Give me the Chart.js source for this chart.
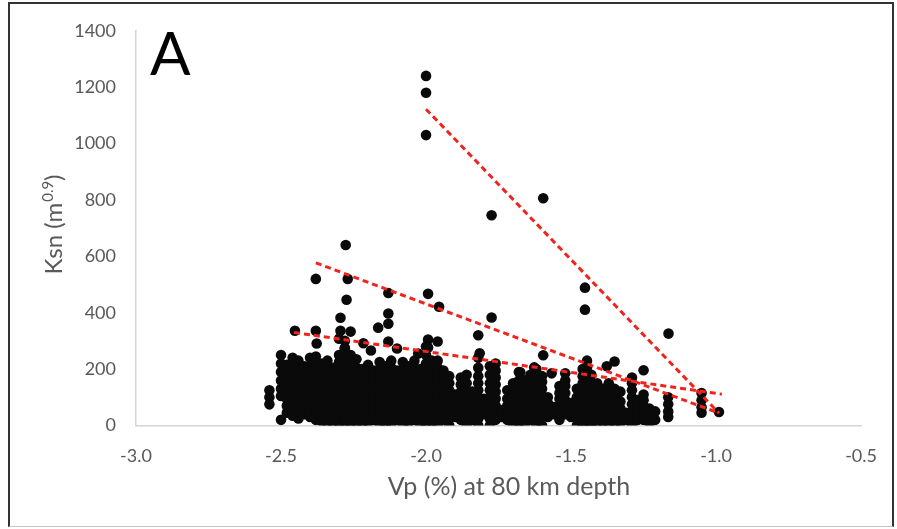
<!DOCTYPE html>
<html>
<head>
<meta charset="utf-8">
<script src="https://cdn.jsdelivr.net/npm/chart.js@4.4.1/dist/chart.umd.min.js"></script>
<style>
    html, body { margin: 0; padding: 0; background: #fff; }
    .wrap { position: relative; width: 897px; height: 529px; }
    .frame {
        position: absolute; left: 8px; top: 2px; width: 886px; height: 525px;
        border: 2px solid #333; border-bottom: 1px solid #c8c8c8;
        box-sizing: border-box; pointer-events: none;
    }
</style>
</head>
<body>
<div class="wrap">
    <canvas id="ksn-chart"></canvas>
    <div class="frame"></div>
</div>
<script>
const ksnCanvas = document.getElementById('ksn-chart')

const vpTicks = [-3.0, -2.5, -2.0, -1.5, -1.0, -0.5]
const ksnTicks = [0, 200, 400, 600, 800, 1000, 1200, 1400]

// dense cloud, read column by column (Vp value, then the Ksn values stacked in it)
const cloudVp = [
    -2.54, -2.50, -2.48, -2.46, -2.44, -2.42, -2.40, -2.38, -2.36, -2.34,
    -2.32, -2.30, -2.28, -2.26, -2.24, -2.22, -2.20, -2.18, -2.16, -2.14,
    -2.12, -2.10, -2.08, -2.06, -2.04, -2.02, -2.00, -1.98, -1.96, -1.94,
    -1.92, -1.90, -1.88, -1.86, -1.84, -1.82, -1.80, -1.78, -1.76, -1.74,
    -1.72, -1.70, -1.68, -1.66, -1.64, -1.62, -1.60, -1.58, -1.56, -1.54,
    -1.52, -1.50, -1.48, -1.46, -1.445, -1.43, -1.41, -1.39, -1.37, -1.35,
    -1.33, -1.31, -1.29, -1.27, -1.25, -1.23, -1.21, -1.165, -1.05, -0.99
]
const cloudKsn = [
    [75, 100, 125],
    [20, 105, 130, 160, 190, 220, 250],
    [45, 70, 95, 120, 145, 170, 195, 215],
    [35, 60, 90, 115, 140, 165, 190, 215, 240],
    [25, 50, 75, 100, 130, 155, 180, 205, 230],
    [40, 65, 90, 115, 140, 170, 195, 210],
    [30, 55, 85, 110, 135, 160, 185, 210, 240],
    [20, 45, 70, 100, 125, 150, 175, 200, 225, 245],
    [15, 40, 65, 90, 120, 145, 170, 195, 220],
    [10, 35, 60, 85, 110, 135, 160, 185, 210, 230],
    [5, 30, 55, 80, 105, 130, 155, 180, 205],
    [0, 25, 50, 75, 100, 125, 150, 175, 200, 225, 250],
    [0, 20, 45, 70, 95, 120, 145, 170, 195, 220, 245, 275, 300],
    [0, 25, 50, 75, 100, 125, 150, 175, 200, 225, 250],
    [0, 30, 55, 80, 105, 130, 155, 180, 205, 235],
    [5, 30, 55, 80, 105, 130, 155, 180, 200],
    [10, 35, 60, 85, 110, 140, 165, 190, 215],
    [20, 45, 70, 95, 120, 145, 170, 195],
    [0, 25, 50, 75, 100, 125, 150, 175, 200, 225],
    [0, 30, 55, 80, 105, 130, 160, 185, 210],
    [5, 30, 55, 80, 105, 130, 155, 180, 205, 230],
    [20, 45, 70, 95, 120, 145, 170, 195],
    [0, 25, 50, 75, 100, 125, 150, 175, 200, 225],
    [10, 35, 60, 85, 110, 135, 160, 185, 210],
    [20, 45, 70, 95, 120, 150, 175, 200, 230],
    [0, 25, 50, 75, 100, 125, 150, 175, 200],
    [0, 20, 45, 70, 95, 120, 145, 170, 195, 220, 250, 280],
    [10, 35, 60, 85, 110, 135, 160, 185, 210, 230],
    [0, 25, 50, 75, 100, 125, 150, 180, 205, 230],
    [20, 45, 70, 95, 120, 145, 170, 195],
    [0, 25, 50, 75, 100, 125, 150, 175],
    [30, 55, 80, 110],
    [20, 45, 70, 95, 120, 145, 170],
    [0, 25, 50, 75, 100, 125, 150, 180],
    [20, 45, 70, 95, 120],
    [0, 25, 50, 75, 100, 125, 150, 175, 205, 240],
    [40, 65, 95],
    [0, 25, 50, 75, 100, 125, 150, 180, 210],
    [20, 45, 70, 95, 120, 145, 170, 195, 220],
    [30, 55],
    [20, 45, 70, 95, 125],
    [0, 25, 50, 75, 100, 125, 150],
    [10, 35, 60, 85, 110, 135, 160, 190],
    [0, 25, 50, 75, 100, 130, 160],
    [20, 45, 70, 95, 120, 150, 180],
    [0, 25, 50, 75, 100, 125, 150, 175, 200],
    [0, 30, 55, 80, 105, 130, 155, 175],
    [30, 55, 80, 100],
    [40, 65],
    [20, 45, 70, 95, 115, 140],
    [40, 65, 90, 115, 140, 160, 185],
    [30, 55, 80],
    [0, 25, 50, 75, 100, 130],
    [0, 25, 50, 75, 100, 125, 150, 175, 200],
    [0, 30, 55, 80, 105, 130, 155, 180, 205, 230],
    [0, 25, 50, 75, 100, 125, 150, 180],
    [0, 25, 50, 75, 100, 125, 150],
    [10, 35, 60, 85, 110, 130],
    [0, 25, 50, 75, 100, 125, 150],
    [0, 25, 50, 75, 100, 130],
    [10, 35, 60, 85, 120],
    [20, 45],
    [0, 25, 50, 75, 100, 125, 150, 170],
    [20, 45, 70, 90],
    [20, 45, 70, 90, 110],
    [10, 35, 60],
    [20, 50],
    [30, 50, 75, 100],
    [45, 65, 90, 115],
    [48]
]

// scattered points above the cloud
const outlierVp = [
    -2.452, -2.38, -2.377, -2.38, -2.277, -2.27, -2.274, -2.295, -2.295, -2.26,
    -2.30, -2.28, -2.165, -2.13, -2.13, -2.13, -2.13, -2.216, -2.19, -2.10,
    -2.027, -1.993, -1.955, -1.993, -1.993, -1.96, -1.82, -1.815, -1.774, -1.774,
    -1.596, -1.596, -1.675, -1.627, -1.567, -1.452, -1.452, -1.377, -1.35, -1.25,
    -1.164, -2.0, -2.0, -2.0
]
const outlierKsn = [
    336, 336, 291, 520, 640, 520, 446, 382, 336, 333,
    308, 273, 347, 470, 397, 361, 298, 292, 266, 273,
    255, 467, 421, 305, 277, 298, 320, 256, 383, 746,
    806, 249, 189, 206, 185, 489, 411, 210, 227, 196,
    326, 1030, 1180, 1240
]

// linear trendlines (start, end)
const trendSteepVp = [-2.0, -0.99]
const trendSteepKsn = [1122, 44]
const trendMidVp = [-2.38, -0.99]
const trendMidKsn = [577, 44]
const trendLowVp = [-2.455, -0.98]
const trendLowKsn = [330, 111]

const scatterPoints = []
cloudVp.forEach(function(vp, i) {
    cloudKsn[i].forEach(function(k) { scatterPoints.push({ x: vp, y: k }) })
})
outlierVp.forEach(function(vp, i) { scatterPoints.push({ x: vp, y: outlierKsn[i] }) })

function toPoints(xs, ys) {
    return xs.map(function(x, i) { return { x: x, y: ys[i] } })
}

const trendStyle = {
    showLine: true,
    fill: false,
    pointRadius: 0,
    borderColor: '#f2221c',
    borderWidth: 3,
    borderDash: [6, 4]
}

const data = {
    datasets: [
        Object.assign({ label: 'trend 1', data: toPoints(trendSteepVp, trendSteepKsn) }, trendStyle),
        Object.assign({ label: 'trend 2', data: toPoints(trendMidVp, trendMidKsn) }, trendStyle),
        Object.assign({ label: 'trend 3', data: toPoints(trendLowVp, trendLowKsn) }, trendStyle),
        {
            label: 'Ksn',
            data: scatterPoints,
            pointRadius: 5.3,
            pointBackgroundColor: '#0a0a0a',
            pointBorderWidth: 0,
            pointHoverRadius: 5.3
        }
    ]
}

const grey = '#595959'

const textPlugin = {
    id: 'panelText',
    afterDraw: function(chart) {
        const ctx = chart.ctx
        ctx.save()
        ctx.fillStyle = '#000'
        ctx.textAlign = 'left'
        ctx.textBaseline = 'alphabetic'
        ctx.font = '60px "Liberation Sans Narrow", Lato, sans-serif'
        ctx.fillText('A', 150, 75)

        ctx.fillStyle = grey
        ctx.textAlign = 'center'
        ctx.font = '25px Lato, sans-serif'
        ctx.fillText('Vp (%) at 80 km depth', 509, 495)

        // y title with superscript
        ctx.translate(62, 225)
        ctx.rotate(-Math.PI / 2)
        ctx.textAlign = 'left'
        const big = '24px Lato, sans-serif'
        const small = '15px Lato, sans-serif'
        ctx.font = big
        const w1 = ctx.measureText('Ksn (m').width
        const w3 = ctx.measureText(')').width
        ctx.font = small
        const w2 = ctx.measureText('0.9').width
        let x0 = -(w1 + w2 + w3) / 2
        ctx.font = big
        ctx.fillText('Ksn (m', x0, 0)
        ctx.font = small
        ctx.fillText('0.9', x0 + w1 + 1, -9)
        ctx.font = big
        ctx.fillText(')', x0 + w1 + w2 + 1, 0)
        ctx.restore()
    }
}

const config = {
    type: 'scatter',
    data: data,
    options: {
        responsive: true,
        maintainAspectRatio: false,
        animation: false,
        events: [],
        layout: {
            padding: { left: 0, right: 31, top: 28, bottom: 0 }
        },
        plugins: {
            legend: { display: false },
            tooltip: { enabled: false }
        },
        scales: {
            x: {
                type: 'linear',
                min: -3,
                max: -0.5,
                afterBuildTicks: function(scale) {
                    scale.ticks = vpTicks.map(function(v) { return { value: v } })
                },
                afterFit: function(scale) { scale.height = 103.5 },
                grid: { display: false, drawTicks: false },
                border: { display: true, color: '#d4d4d4', width: 1.5 },
                ticks: {
                    padding: 20,
                    color: grey,
                    font: { family: 'Lato', size: 18 },
                    maxRotation: 0,
                    callback: function(v) { return Number(v).toFixed(1) }
                }
            },
            y: {
                min: 0,
                max: 1400,
                afterBuildTicks: function(scale) {
                    scale.ticks = ksnTicks.map(function(v) { return { value: v } })
                },
                afterFit: function(scale) { scale.width = 136 },
                grid: { display: false, drawTicks: false },
                border: { display: true, color: '#d4d4d4', width: 1.5 },
                ticks: {
                    padding: 20,
                    color: grey,
                    font: { family: 'Lato', size: 18 },
                    callback: function(v) { return String(v) }
                }
            }
        }
    },
    plugins: [textPlugin]
}

new Chart(ksnCanvas, config)
</script>
</body>
</html>
